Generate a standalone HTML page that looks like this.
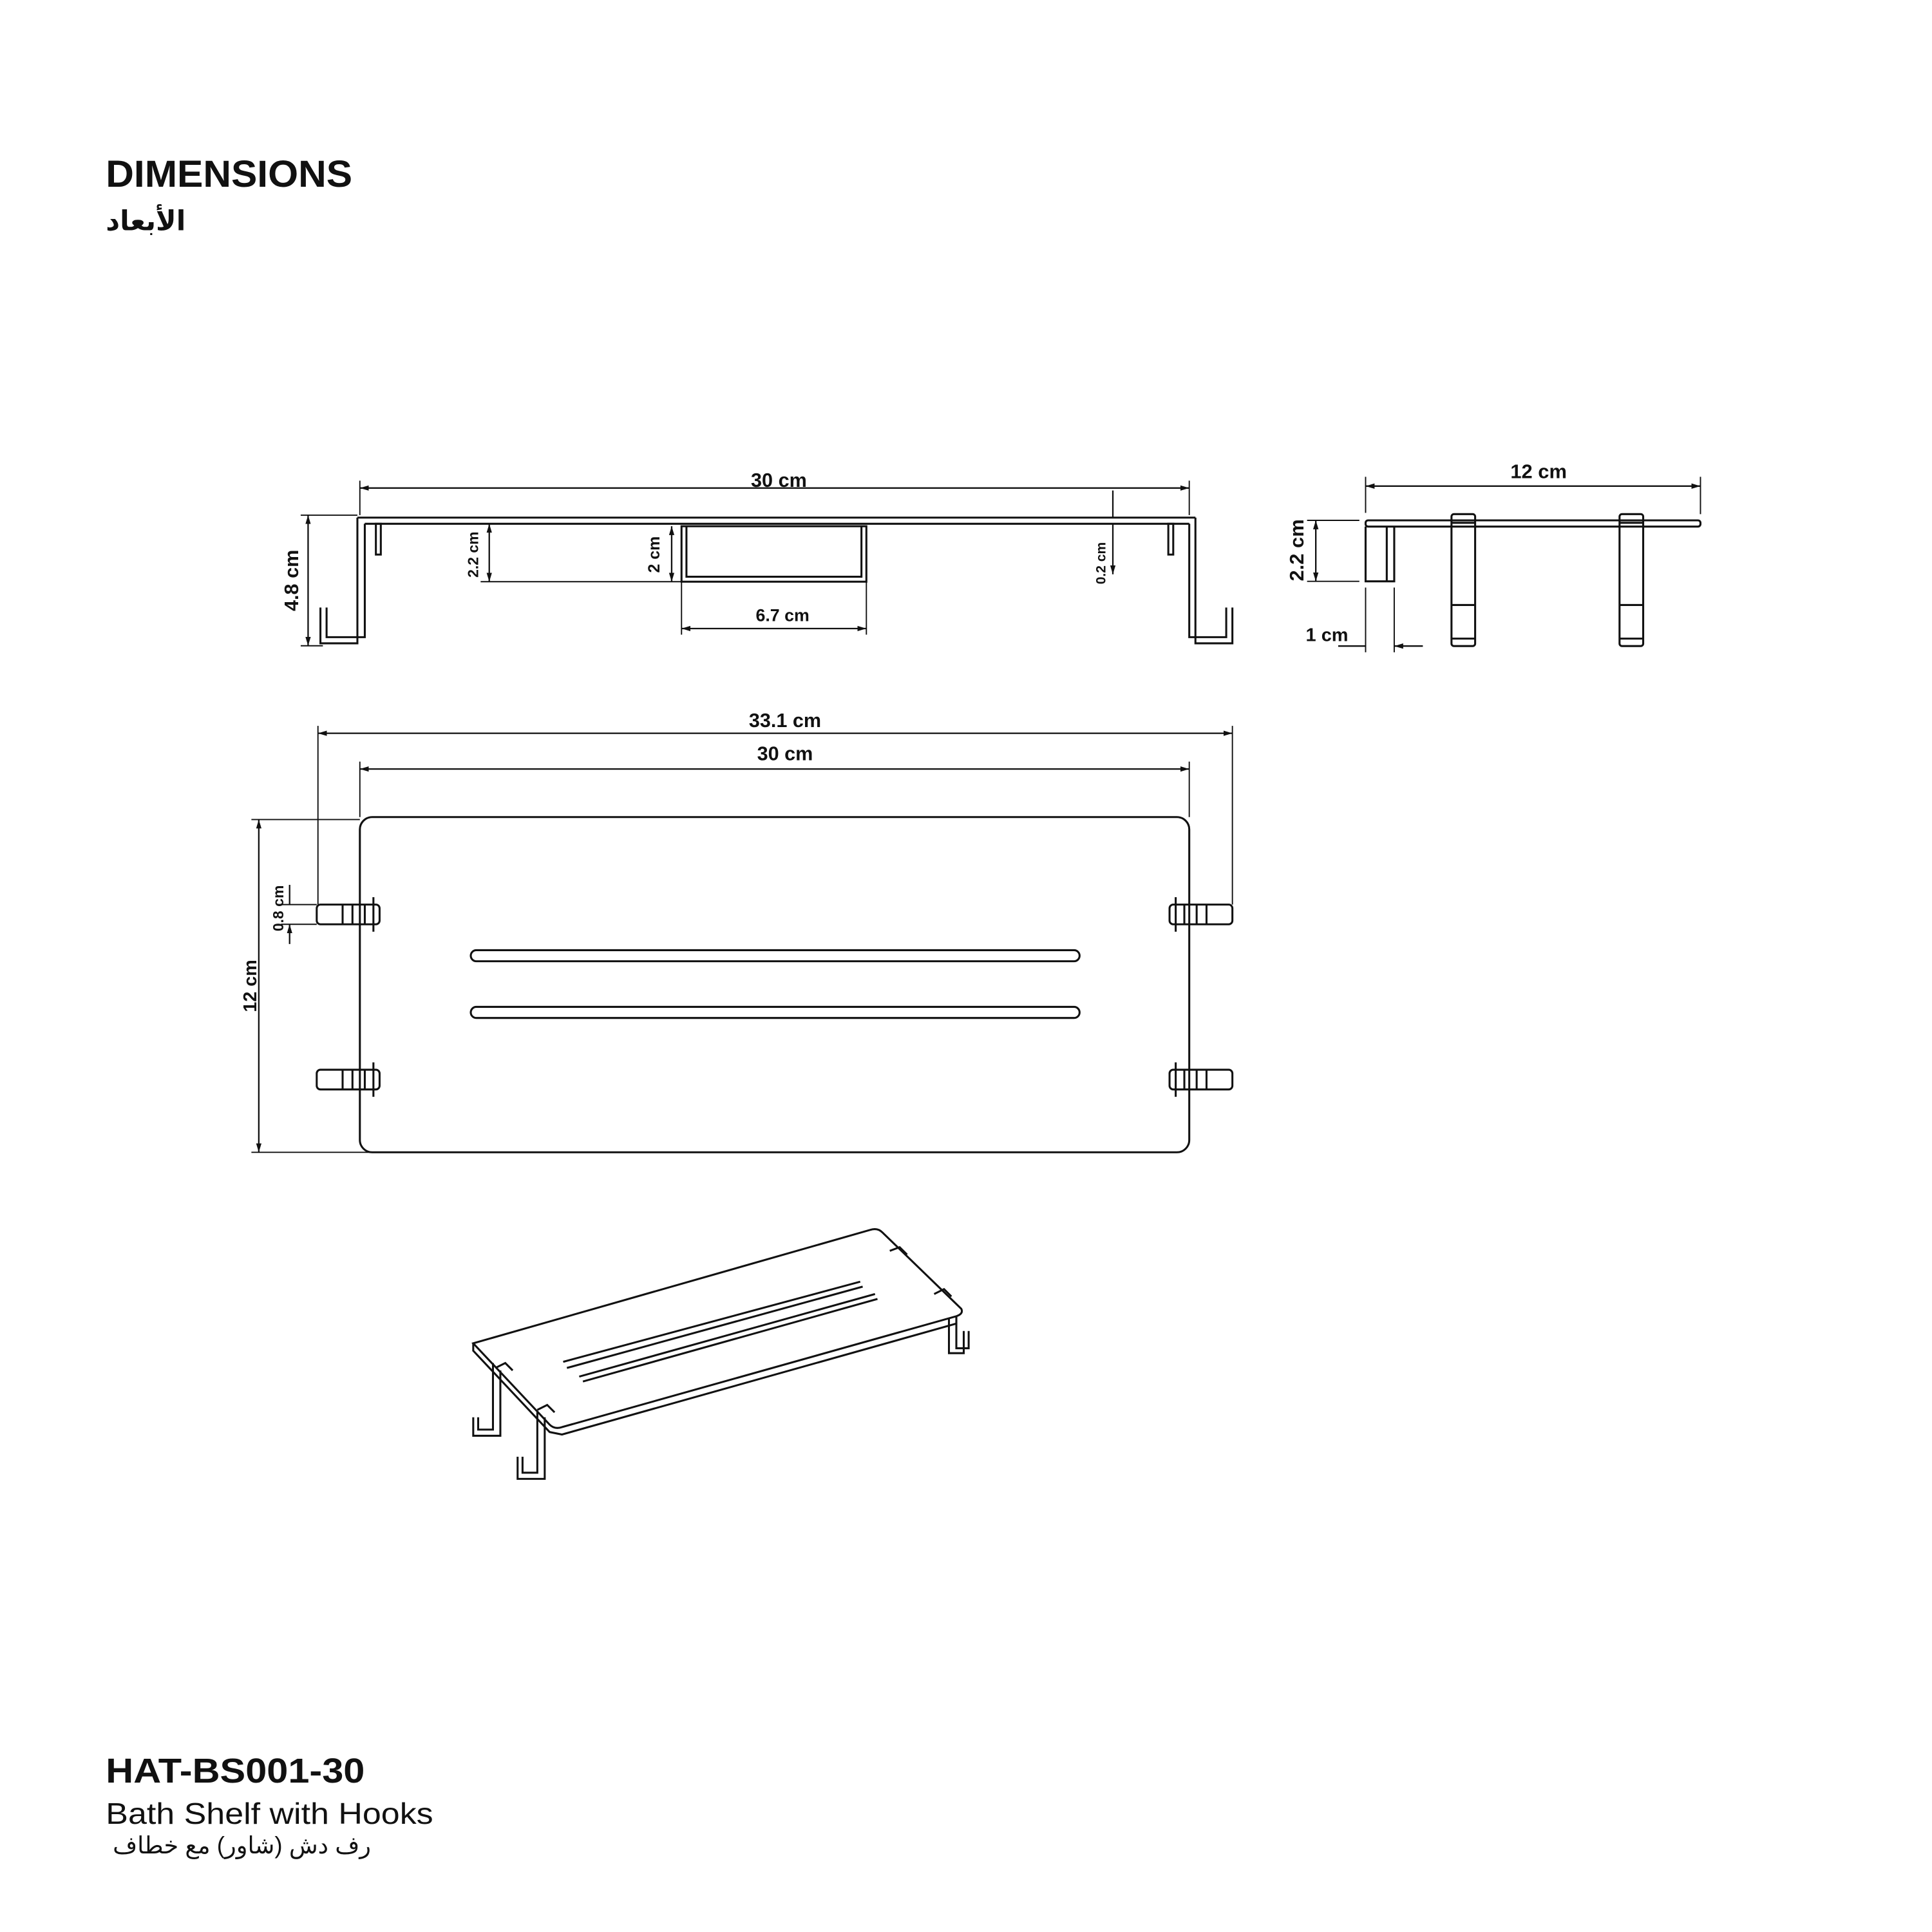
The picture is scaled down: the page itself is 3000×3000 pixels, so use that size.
<!DOCTYPE html>
<html><head><meta charset="utf-8"><style>
html,body{margin:0;padding:0;background:#fff;}
svg{display:block;}
text{font-family:"Liberation Sans","DejaVu Sans",sans-serif;fill:#111;}
</style></head><body>
<svg width="3000" height="3000" viewBox="0 0 1552 1552" xmlns="http://www.w3.org/2000/svg">
<defs>
<marker id="a" viewBox="0 0 10 10" refX="10" refY="5" markerWidth="6" markerHeight="6" orient="auto-start-reverse"><path d="M0,2 L10,5 L0,8 Z" fill="#111" stroke="none"/></marker>
</defs>
<rect width="1552" height="1552" fill="#fff"/>
<text x="85" y="150" font-size="30" font-weight="bold" textLength="198" lengthAdjust="spacingAndGlyphs">DIMENSIONS</text>
<text x="85" y="185" font-size="22" font-family="DejaVu Sans,sans-serif" font-weight="bold">الأبعاد</text>

<g transform="scale(0.99)">
<g fill="none" stroke="#111" stroke-width="1.6">
<path d="M290,420 H970 M296,425 H965"/>
<path d="M290,420 V522 H260 V493 M296,425 V517 H265 V493"/>
<path d="M970,420 V522 H1000 V493 M965,425 V517 H995 V493"/>
<rect x="305" y="425" width="4" height="25"/>
<rect x="948" y="425" width="4" height="25"/>
<rect x="553" y="427" width="150" height="45"/>
<path d="M557,427 V468 H699 V427"/>
<path d="M292,396 H965" marker-start="url(#a)" marker-end="url(#a)" stroke-width="1.2"/>
<path d="M292,390 V418 M965,390 V418" stroke-width="1"/>
<path d="M250,418 V524" marker-start="url(#a)" marker-end="url(#a)" stroke-width="1.2"/>
<path d="M244,418 H290 M244,524 H262" stroke-width="1"/>
<path d="M397,425 V472" marker-start="url(#a)" marker-end="url(#a)" stroke-width="1.2"/>
<path d="M390,472 H553 M390,425 H400" stroke-width="1"/>
<path d="M545,427 V472" marker-start="url(#a)" marker-end="url(#a)" stroke-width="1.2"/>
<path d="M553,510 H703" marker-start="url(#a)" marker-end="url(#a)" stroke-width="1.2"/>
<path d="M553,472 V515 M703,472 V515" stroke-width="1"/>
<path d="M903,398 V420 M903,425 V466" stroke-width="1.2" marker-end="url(#a)"/>
<rect x="292" y="663" width="673" height="272" rx="10"/>
<rect x="382" y="771" width="494" height="9" rx="4.5"/>
<rect x="382" y="817" width="494" height="9" rx="4.5"/>
<g id="clip"><rect x="257" y="734" width="51" height="16" rx="3"/><path d="M278,734 V750 M286,734 V750 M296,734 V750 M303,728 V756"/></g>
<use href="#clip" y="134"/>
<use href="#clip" transform="translate(1257,0) scale(-1,1)"/>
<use href="#clip" transform="translate(1257,134) scale(-1,1)"/>
<path d="M258,595 H1000" marker-start="url(#a)" marker-end="url(#a)" stroke-width="1.2"/>
<path d="M258,589 V734 M1000,589 V734" stroke-width="1"/>
<path d="M292,624 H965" marker-start="url(#a)" marker-end="url(#a)" stroke-width="1.2"/>
<path d="M292,618 V663 M965,618 V663" stroke-width="1"/>
<path d="M210,665 V935" marker-start="url(#a)" marker-end="url(#a)" stroke-width="1.2"/>
<path d="M204,665 H292 M204,935 H300" stroke-width="1"/>
<path d="M235,718 V734 M235,766 V750" marker-end="url(#a)" stroke-width="1.2"/>
<path d="M228,734 H257 M228,750 H257" stroke-width="1"/>
<path d="M384,1090 L706,998 Q712,996 716,1000 L780,1062 Q782,1066 776,1068 L456,1158 Q450,1160 446,1156 Z"/>
<path d="M384,1090 V1096 L446,1162 L456,1164 L776,1074 V1068"/>
<path d="M457,1105 L698,1040 M460,1110 L700,1044 M470,1117 L710,1050 M473,1121 L712,1054"/>
<path d="M400,1106 V1160 H388 V1150 M406,1112 V1165 H384 V1150"/>
<path d="M436,1146 V1195 H424 V1182 M442,1150 V1200 H420 V1182"/>
<path d="M770,1070 V1098 H782 V1080 M776,1068 V1094 H786 V1080"/>
<path d="M402,1110 L410,1106 L416,1112 M436,1144 L444,1140 L450,1146 M722,1015 L730,1012 L736,1018 M758,1050 L766,1046 L772,1052"/>
</g>
<g font-weight="bold">
<text x="632" y="395" font-size="16" text-anchor="middle">30 cm</text>
<text x="635" y="504" font-size="14" text-anchor="middle">6.7 cm</text>
<text x="637" y="590" font-size="16" text-anchor="middle">33.1 cm</text>
<text x="637" y="617" font-size="16" text-anchor="middle">30 cm</text>
<text transform="translate(242,471) rotate(-90)" font-size="16" text-anchor="middle">4.8 cm</text>
<text transform="translate(388,450) rotate(-90)" font-size="12" text-anchor="middle">2.2 cm</text>
<text transform="translate(535,450) rotate(-90)" font-size="13" text-anchor="middle">2 cm</text>
<text transform="translate(897,457) rotate(-90)" font-size="11" text-anchor="middle">0.2 cm</text>
<text transform="translate(208,800) rotate(-90)" font-size="15" text-anchor="middle">12 cm</text>
<text transform="translate(230,737) rotate(-90)" font-size="12" text-anchor="middle">0.8 cm</text>
</g>
</g>

<g fill="none" stroke="#111" stroke-width="1.6">
<rect x="1097" y="418" width="269" height="5" rx="2"/>
<path d="M1097,423 V467 H1120 V423 M1114,423 V467"/>
<rect x="1166" y="413" width="19" height="106" rx="2"/>
<path d="M1166,420 H1185 M1166,486 H1185 M1166,513 H1185"/>
<rect x="1301" y="413" width="19" height="106" rx="2"/>
<path d="M1301,420 H1320 M1301,486 H1320 M1301,513 H1320"/>
<path d="M1097,390.5 H1366" marker-start="url(#a)" marker-end="url(#a)" stroke-width="1.2"/>
<path d="M1097,383 V412 M1366,383 V413" stroke-width="1"/>
<path d="M1057,418 V467" marker-start="url(#a)" marker-end="url(#a)" stroke-width="1.2"/>
<path d="M1050,418 H1092 M1050,467 H1092" stroke-width="1"/>
<path d="M1075,519 H1097 M1143,519 H1120" stroke-width="1.2" marker-end="url(#a)"/>
<path d="M1097,472 V524 M1120,472 V524" stroke-width="1"/>
</g>
<g font-weight="bold">
<text x="1236" y="384" font-size="16" text-anchor="middle">12 cm</text>
<text x="1066" y="515" font-size="15" text-anchor="middle">1 cm</text>
<text transform="translate(1047,442) rotate(-90)" font-size="16" text-anchor="middle">2.2 cm</text>
</g>

<text x="85" y="1432" font-size="28" font-weight="bold" textLength="208" lengthAdjust="spacingAndGlyphs">HAT-BS001-30</text>
<text x="85" y="1465" font-size="24" textLength="263" lengthAdjust="spacingAndGlyphs">Bath Shelf with Hooks</text>
<text x="298" y="1489" font-size="19" font-family="DejaVu Sans,sans-serif" text-anchor="end">رف دش (شاور) مع خطاف</text>
</svg>
</body></html>
